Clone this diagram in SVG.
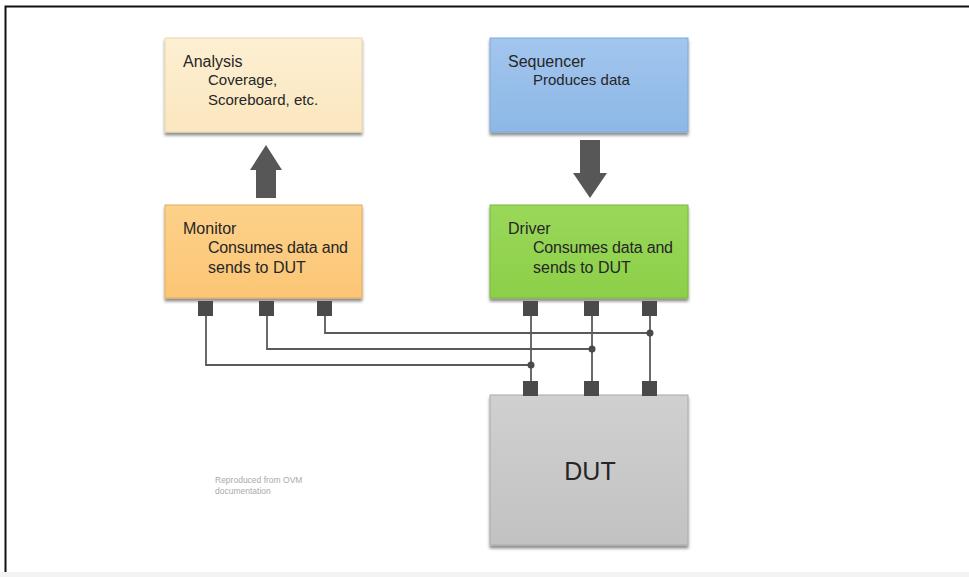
<svg xmlns="http://www.w3.org/2000/svg" width="969" height="577" viewBox="0 0 969 577">
  <defs>
    <style>
      .lbl{font-family:"Liberation Sans",Arial,sans-serif;fill:#262626;}
      .t{font-size:16px;}
      .s{font-size:15px;}
      .port{fill:#4a4a4a;}
      .wire{fill:none;stroke:#5a5a5a;stroke-width:1.8;}
      .dot{fill:#4a4a4a;}
      .arrow{fill:#575757;}
    </style>
    <linearGradient id="gA" x1="0" y1="0" x2="0" y2="1"><stop offset="0" stop-color="#fdefd2"/><stop offset="1" stop-color="#fbe7bf"/></linearGradient>
    <linearGradient id="gS" x1="0" y1="0" x2="0" y2="1"><stop offset="0" stop-color="#a2c6ee"/><stop offset="1" stop-color="#8db7e6"/></linearGradient>
    <linearGradient id="gM" x1="0" y1="0" x2="0" y2="1"><stop offset="0" stop-color="#fdd18a"/><stop offset="1" stop-color="#fbc675"/></linearGradient>
    <linearGradient id="gD" x1="0" y1="0" x2="0" y2="1"><stop offset="0" stop-color="#9ad85a"/><stop offset="1" stop-color="#8ccf48"/></linearGradient>
    <linearGradient id="gU" x1="0" y1="0" x2="0" y2="1"><stop offset="0" stop-color="#d0d0d0"/><stop offset="1" stop-color="#c2c2c2"/></linearGradient>
    <filter id="sh" x="-10%" y="-10%" width="120%" height="130%">
      <feGaussianBlur in="SourceAlpha" stdDeviation="1.8"/>
      <feOffset dx="0" dy="2.5" result="b"/>
      <feComponentTransfer><feFuncA type="linear" slope="0.45"/></feComponentTransfer>
      <feMerge><feMergeNode/><feMergeNode in="SourceGraphic"/></feMerge>
    </filter>
  </defs>
  <rect x="0" y="0" width="969" height="577" fill="#ffffff"/>
  <rect x="0" y="572" width="969" height="5" fill="#f3f3f3"/>
  <path d="M5.5 572 V6.5 H969" fill="none" stroke="#111" stroke-width="2"/>

  <g id="connectors">
    <path class="wire" d="M206 316 V365 H531"/>
    <path class="wire" d="M267 316 V349 H592"/>
    <path class="wire" d="M325 316 V333 H650" stroke="#8a8a8a"/>
    <path class="wire" d="M531 316 V381"/>
    <path class="wire" d="M592 316 V381"/>
    <path class="wire" d="M650 316 V381"/>
    <circle class="dot" cx="531" cy="365" r="3.5"/>
    <circle class="dot" cx="592" cy="349" r="3.5"/>
    <circle class="dot" cx="650" cy="333" r="3.5"/>
    <path class="arrow" d="M256 198 V170 H250 L266 145 L282 170 H276 V198 Z"/>
    <path class="arrow" d="M580 140 V173 H573 L590 198 L607 173 H600 V140 Z"/>
  </g>

  <g id="analysis">
    <rect x="165" y="38" width="197" height="94" fill="url(#gA)" stroke="#e9d7ae" filter="url(#sh)"/>
    <text class="lbl t" x="183" y="67">Analysis</text>
    <text class="lbl s" x="208" y="85">Coverage,</text>
    <text class="lbl s" x="208" y="105">Scoreboard, etc.</text>
  </g>

  <g id="sequencer">
    <rect x="490" y="38" width="198" height="94" fill="url(#gS)" stroke="#7fa9d8" filter="url(#sh)"/>
    <text class="lbl t" x="508" y="67">Sequencer</text>
    <text class="lbl s" x="533" y="85">Produces data</text>
  </g>

  <g id="monitor">
    <rect x="165" y="205" width="197" height="93" fill="url(#gM)" stroke="#e3ae5c" filter="url(#sh)"/>
    <text class="lbl t" x="183" y="234">Monitor</text>
    <text class="lbl t" x="208" y="253" textLength="140">Consumes data and</text>
    <text class="lbl t" x="208" y="273">sends to DUT</text>
    <rect class="port" x="198" y="301" width="15" height="15"/>
    <rect class="port" x="259" y="301" width="15" height="15"/>
    <rect class="port" x="317" y="301" width="15" height="15"/>
  </g>

  <g id="driver">
    <rect x="490" y="205" width="198" height="93" fill="url(#gD)" stroke="#78b83a" filter="url(#sh)"/>
    <text class="lbl t" x="508" y="234">Driver</text>
    <text class="lbl t" x="533" y="253" textLength="140">Consumes data and</text>
    <text class="lbl t" x="533" y="273">sends to DUT</text>
    <rect class="port" x="523" y="301" width="15" height="15"/>
    <rect class="port" x="584" y="301" width="15" height="15"/>
    <rect class="port" x="642" y="301" width="15" height="15"/>
  </g>

  <g id="dut">
    <rect x="490" y="395" width="198" height="150" fill="url(#gU)" stroke="#aaa" filter="url(#sh)"/>
    <rect class="port" x="523" y="381" width="15" height="15"/>
    <rect class="port" x="584" y="381" width="15" height="15"/>
    <rect class="port" x="642" y="381" width="15" height="15"/>
    <text class="lbl" x="590" y="480" font-size="25" text-anchor="middle">DUT</text>
  </g>

  <g id="note">
    <text x="215" y="483" font-family="'Liberation Sans',Arial,sans-serif" font-size="8.5" fill="#aaa">Reproduced from OVM</text>
    <text x="215" y="494" font-family="'Liberation Sans',Arial,sans-serif" font-size="8.5" fill="#aaa">documentation</text>
  </g>
</svg>
